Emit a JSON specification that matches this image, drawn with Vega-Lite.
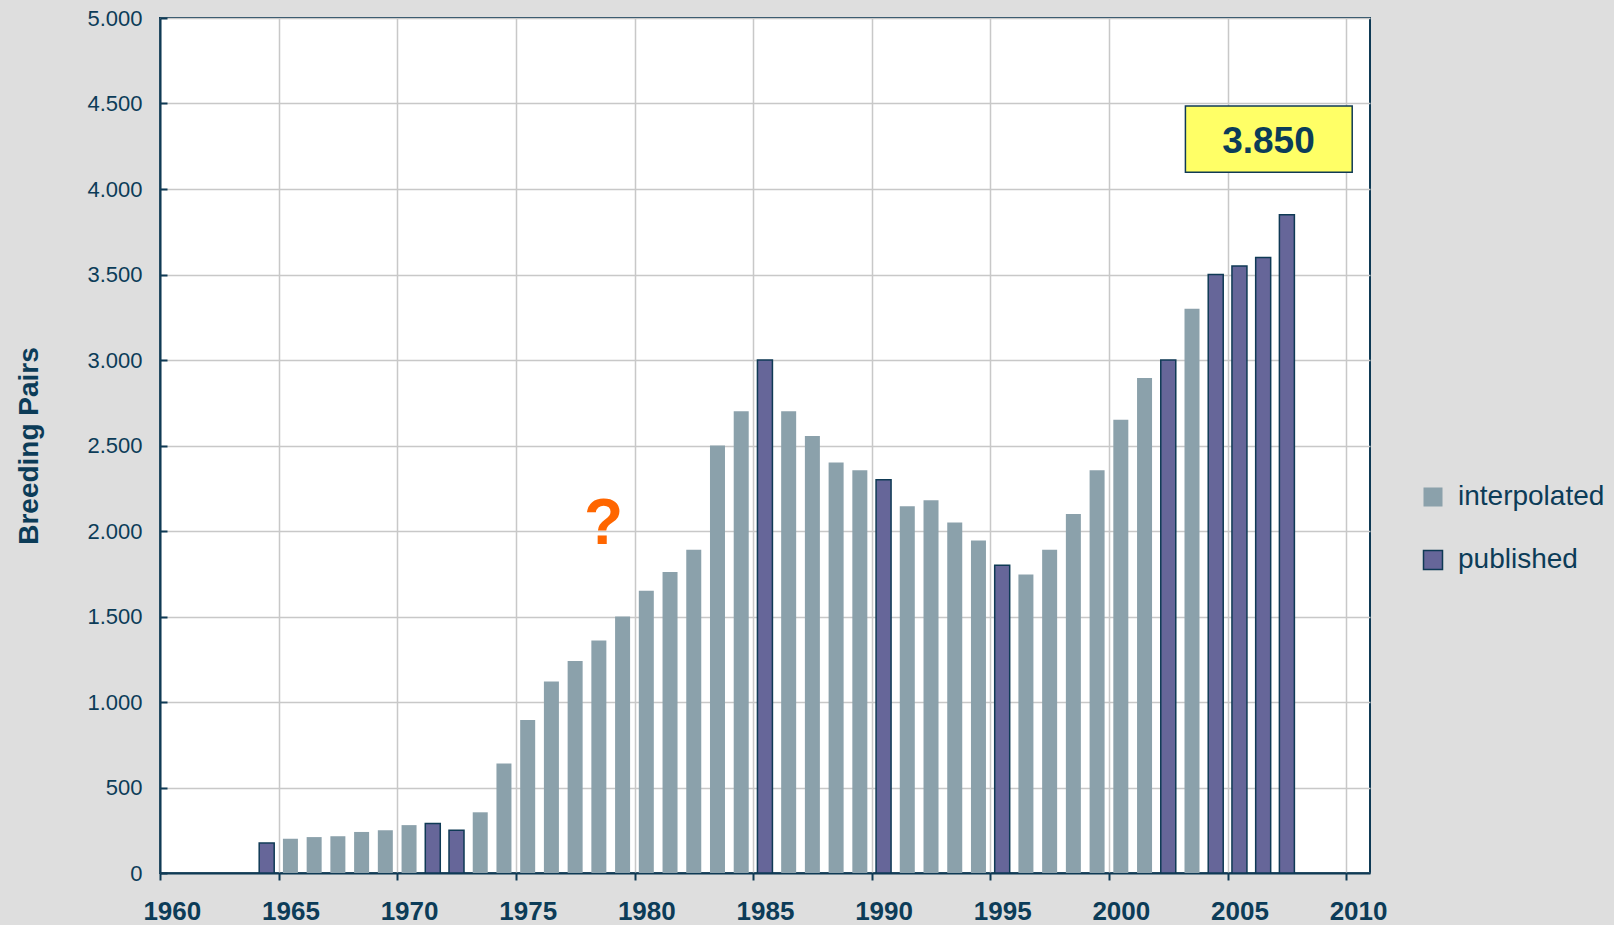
{
  "$schema": "https://vega.github.io/schema/vega-lite/v6.json",
  "autosize": "none",
  "width": 1210,
  "height": 855,
  "padding": {"left": 160, "top": 18, "right": 244, "bottom": 52},
  "background": "#dedede",
  "config": {
    "font": "Liberation Sans",
    "view": {"fill": "#ffffff", "stroke": "#0f3a55", "strokeWidth": 2},
    "axis": {"gridColor": "#c8c8c8", "gridWidth": 1.5, "domainColor": "#0f3a55", "domainWidth": 2, "tickColor": "#0f3a55", "tickWidth": 2, "labelColor": "#0c3c58", "titleColor": "#0c3c58", "labelFont": "Liberation Sans", "titleFont": "Liberation Sans"}
  },
  "layer": [
    {
      "data": {"values": [
        {"year": 1964, "pairs": 175, "type": "published"},
        {"year": 1965, "pairs": 200, "type": "interpolated"},
        {"year": 1966, "pairs": 210, "type": "interpolated"},
        {"year": 1967, "pairs": 215, "type": "interpolated"},
        {"year": 1968, "pairs": 240, "type": "interpolated"},
        {"year": 1969, "pairs": 250, "type": "interpolated"},
        {"year": 1970, "pairs": 280, "type": "interpolated"},
        {"year": 1971, "pairs": 290, "type": "published"},
        {"year": 1972, "pairs": 250, "type": "published"},
        {"year": 1973, "pairs": 355, "type": "interpolated"},
        {"year": 1974, "pairs": 640, "type": "interpolated"},
        {"year": 1975, "pairs": 895, "type": "interpolated"},
        {"year": 1976, "pairs": 1120, "type": "interpolated"},
        {"year": 1977, "pairs": 1240, "type": "interpolated"},
        {"year": 1978, "pairs": 1360, "type": "interpolated"},
        {"year": 1979, "pairs": 1500, "type": "interpolated"},
        {"year": 1980, "pairs": 1650, "type": "interpolated"},
        {"year": 1981, "pairs": 1760, "type": "interpolated"},
        {"year": 1982, "pairs": 1890, "type": "interpolated"},
        {"year": 1983, "pairs": 2500, "type": "interpolated"},
        {"year": 1984, "pairs": 2700, "type": "interpolated"},
        {"year": 1985, "pairs": 3000, "type": "published"},
        {"year": 1986, "pairs": 2700, "type": "interpolated"},
        {"year": 1987, "pairs": 2555, "type": "interpolated"},
        {"year": 1988, "pairs": 2400, "type": "interpolated"},
        {"year": 1989, "pairs": 2355, "type": "interpolated"},
        {"year": 1990, "pairs": 2300, "type": "published"},
        {"year": 1991, "pairs": 2145, "type": "interpolated"},
        {"year": 1992, "pairs": 2180, "type": "interpolated"},
        {"year": 1993, "pairs": 2050, "type": "interpolated"},
        {"year": 1994, "pairs": 1945, "type": "interpolated"},
        {"year": 1995, "pairs": 1800, "type": "published"},
        {"year": 1996, "pairs": 1745, "type": "interpolated"},
        {"year": 1997, "pairs": 1890, "type": "interpolated"},
        {"year": 1998, "pairs": 2100, "type": "interpolated"},
        {"year": 1999, "pairs": 2355, "type": "interpolated"},
        {"year": 2000, "pairs": 2650, "type": "interpolated"},
        {"year": 2001, "pairs": 2895, "type": "interpolated"},
        {"year": 2002, "pairs": 3000, "type": "published"},
        {"year": 2003, "pairs": 3300, "type": "interpolated"},
        {"year": 2004, "pairs": 3500, "type": "published"},
        {"year": 2005, "pairs": 3550, "type": "published"},
        {"year": 2006, "pairs": 3600, "type": "published"},
        {"year": 2007, "pairs": 3850, "type": "published"}
      ]},
      "mark": {"type": "bar", "size": 15, "xOffset": 11.8, "strokeWidth": 1.5},
      "encoding": {
        "x": {
          "field": "year", "type": "quantitative",
          "scale": {"domain": [1960, 2011], "nice": false, "zero": false, "padding": 0},
          "axis": {
            "values": [1960, 1965, 1970, 1975, 1980, 1985, 1990, 1995, 2000, 2005, 2010],
            "format": "d", "title": null, "labelOffset": 11.8, "tickSize": 7,
            "labelFontSize": 26, "labelFontWeight": "bold", "labelBaseline": "alphabetic",
            "labelPadding": 39, "labelFlush": false, "labelOverlap": false
          }
        },
        "y": {
          "field": "pairs", "type": "quantitative",
          "scale": {"domain": [0, 5000], "nice": false, "padding": 0},
          "axis": {
            "values": [0, 500, 1000, 1500, 2000, 2500, 3000, 3500, 4000, 4500, 5000],
            "labelExpr": "replace(format(datum.value, ','), ',', '.')",
            "labelFontSize": 22, "tickSize": -7, "labelPadding": 25,
            "title": "Breeding Pairs", "titleFontSize": 28, "titleFontWeight": "bold",
            "titleAngle": -90, "titleX": -123, "titleY": 427.5, "titleAlign": "center", "titleBaseline": "alphabetic",
            "labelFlush": false, "labelOverlap": false
          }
        },
        "fill": {
          "field": "type", "type": "nominal",
          "scale": {"domain": ["interpolated", "published"], "range": ["#8ba1ab", "#666699"]},
          "legend": {
            "title": null, "orient": "none", "legendX": 1259, "legendY": 465,
            "symbolType": "square", "symbolSize": 361, "symbolStrokeWidth": 1.5,
            "labelFontSize": 28, "labelOffset": 11, "labelColor": "#0c3c58", "labelFont": "Liberation Sans",
            "rowPadding": 35, "padding": 0
          }
        },
        "stroke": {
          "field": "type", "type": "nominal",
          "scale": {"domain": ["interpolated", "published"], "range": ["rgba(0,0,0,0)", "#0f3a55"]},
          "legend": {
            "title": null, "orient": "none", "legendX": 1259, "legendY": 465,
            "symbolType": "square", "symbolSize": 361, "symbolStrokeWidth": 1.5,
            "labelFontSize": 28, "labelOffset": 11, "labelColor": "#0c3c58", "labelFont": "Liberation Sans",
            "rowPadding": 35, "padding": 0
          }
        }
      }
    },
    {
      "data": {"values": [{"label": "?"}]},
      "mark": {"type": "text", "fontSize": 64, "fontWeight": "bold", "color": "#ff6600", "align": "center", "baseline": "alphabetic", "font": "Liberation Sans"},
      "encoding": {
        "x": {"datum": 1978.7, "type": "quantitative"},
        "y": {"datum": 1926, "type": "quantitative"},
        "text": {"field": "label"}
      }
    },
    {
      "data": {"values": [{"label": "3.850"}]},
      "mark": {"type": "rect", "fill": "#ffff66", "stroke": "#0f3a55", "strokeWidth": 1.5},
      "encoding": {
        "x": {"datum": 2003.22, "type": "quantitative"},
        "x2": {"datum": 2010.25},
        "y": {"datum": 4485, "type": "quantitative"},
        "y2": {"datum": 4098}
      }
    },
    {
      "data": {"values": [{"label": "3.850"}]},
      "mark": {"type": "text", "fontSize": 37, "fontWeight": "bold", "color": "#0c3c58", "align": "center", "baseline": "alphabetic", "font": "Liberation Sans"},
      "encoding": {
        "x": {"datum": 2006.72, "type": "quantitative"},
        "y": {"datum": 4211, "type": "quantitative"},
        "text": {"field": "label"}
      }
    }
  ]
}
